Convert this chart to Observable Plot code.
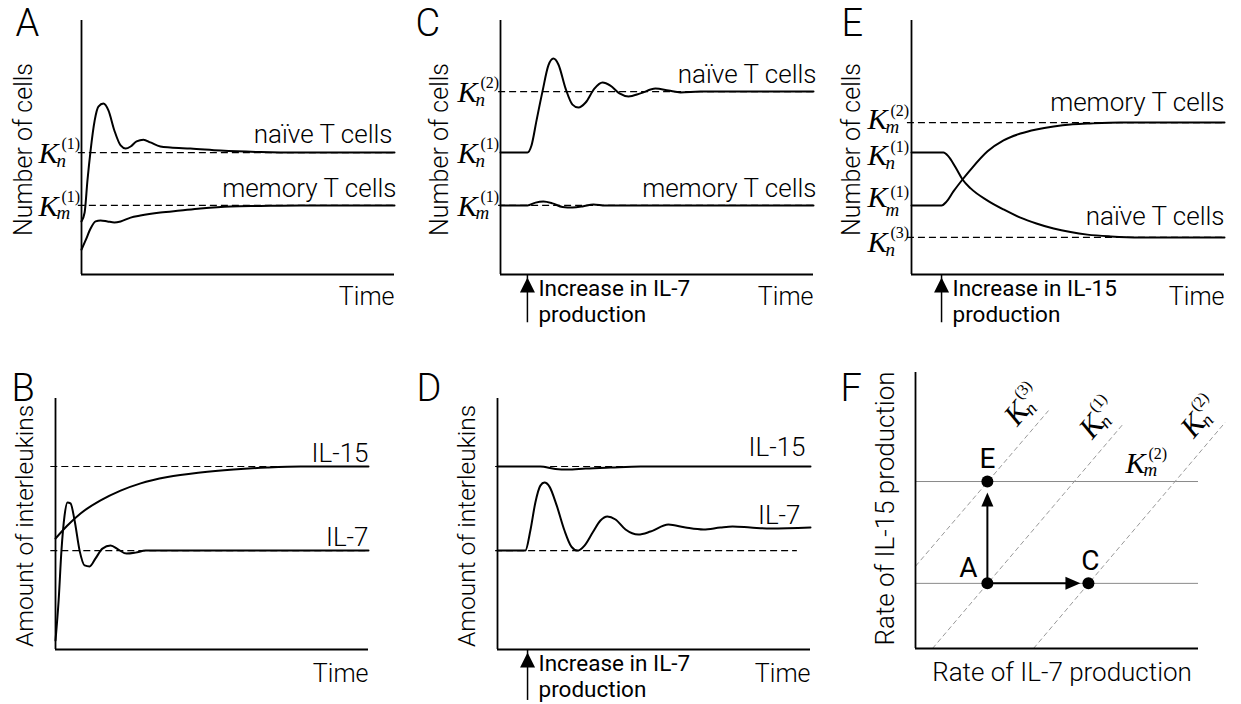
<!DOCTYPE html>
<html>
<head>
<meta charset="utf-8">
<script src="https://cdn.jsdelivr.net/npm/d3@7"></script>
<script src="https://cdn.jsdelivr.net/npm/@observablehq/plot@0.6"></script>
<style>
  body { margin: 0; background: #fff; }
  #root { position: relative; width: 1241px; height: 704px; overflow: hidden; background: #fff; }
  #root > svg { position: absolute; overflow: visible; }
</style>
</head>
<body>
<div id="root"></div>
<script>
// ---------------- DATA (arbitrary units: time 0–10, amount 0–10) ----------------
// Steady-state levels
const Kn1 = 4.80, Km1 = 2.72, Kn2 = 7.20, Km2 = 5.98, Kn3 = 1.46;
const IL15_level = 7.29, IL7_level = 3.94;
// Time of the increase in interleukin production
const stimC = 0.86, stimD = 0.96, stimE = 0.96;
const arrowTailTop = -1.9, arrowTailBottom = -2.03;

// Panel A: [time, cells]
const naiveA = [[0,2.09],[0.10,2.44],[0.19,3.70],[0.29,4.88],[0.42,6.06],[0.54,6.61],[0.70,6.73],[0.86,6.46],[1.05,5.67],[1.25,5.08],[1.41,4.96],[1.57,5.04],[1.76,5.24],[1.98,5.31],[2.20,5.20],[2.52,5.04],[2.84,5.00],[3.48,4.96],[4.44,4.88],[5.72,4.82],[7.0,4.80],[10,4.80]];
const memoryA = [[0,0.98],[0.13,1.34],[0.29,1.81],[0.45,2.09],[0.61,2.13],[0.83,2.09],[1.05,2.05],[1.25,2.09],[1.57,2.24],[1.88,2.32],[2.52,2.44],[3.16,2.52],[3.80,2.60],[4.76,2.68],[5.72,2.70],[7.0,2.72],[10,2.72]];
// Panel C
const naiveC = [[0,4.80],[0.86,4.80],[0.99,5.08],[1.15,6.06],[1.34,7.20],[1.53,8.23],[1.69,8.50],[1.85,8.27],[2.08,7.32],[2.30,6.69],[2.49,6.57],[2.72,6.77],[3.00,7.32],[3.26,7.56],[3.51,7.44],[3.80,7.13],[4.09,7.01],[4.47,7.13],[4.95,7.32],[5.37,7.24],[5.75,7.17],[6.39,7.20],[10,7.20]];
const memoryC = [[0,2.72],[0.86,2.72],[1.12,2.83],[1.37,2.87],[1.66,2.80],[1.98,2.66],[2.30,2.64],[2.62,2.68],[2.97,2.76],[3.35,2.72],[10,2.72]];
// Panel E
const naiveE = [[0,4.80],[1.02,4.80],[1.18,4.65],[1.41,4.21],[1.63,3.74],[1.89,3.39],[2.43,2.91],[2.94,2.56],[3.48,2.24],[3.99,2.01],[4.54,1.81],[5.08,1.67],[5.62,1.57],[6.36,1.50],[7.32,1.46],[10,1.46]];
const memoryE = [[0,2.72],[0.96,2.72],[1.12,2.87],[1.34,3.27],[1.63,3.74],[1.89,4.13],[2.43,4.85],[2.94,5.28],[3.48,5.55],[3.99,5.71],[4.54,5.83],[5.08,5.91],[5.62,5.94],[6.68,5.98],[10,5.98]];
// Panel B: [time, amount]
const il15B = [[0,4.42],[0.38,4.94],[0.80,5.42],[1.44,5.94],[2.08,6.33],[2.72,6.62],[3.58,6.87],[4.63,7.05],[5.69,7.17],[6.77,7.25],[7.83,7.29],[10,7.29]];
const il7B = [[0,0.36],[0.10,1.95],[0.19,3.94],[0.29,5.34],[0.38,5.86],[0.48,5.82],[0.61,5.14],[0.77,3.94],[0.93,3.35],[1.09,3.31],[1.28,3.63],[1.50,4.02],[1.76,4.14],[2.01,3.98],[2.27,3.82],[2.56,3.86],[2.88,3.94],[10,3.94]];
// Panel D
const il15D = [[0,7.29],[0.96,7.29],[1.37,7.29],[1.85,7.19],[2.24,7.17],[2.81,7.21],[3.61,7.25],[4.57,7.29],[10,7.29]];
const il7D = [[0,3.94],[0.89,3.94],[1.05,4.74],[1.21,5.86],[1.37,6.53],[1.50,6.65],[1.66,6.49],[1.89,5.74],[2.14,4.74],[2.36,4.10],[2.56,3.94],[2.78,4.14],[3.04,4.66],[3.29,5.14],[3.51,5.30],[3.77,5.18],[4.09,4.78],[4.50,4.58],[4.89,4.70],[5.46,4.98],[6.01,4.86],[6.58,4.78],[7.12,4.86],[7.51,4.90],[8.08,4.86],[8.72,4.82],[10,4.86]];
const il7DashEnd = 9.58;
// Panel F: rate of IL-7 (x) vs rate of IL-15 (y)
const pointsF = [{name: "A", x: 2.54, y: 2.36}, {name: "E", x: 2.54, y: 6.05}, {name: "C", x: 6.11, y: 2.36}];
const kmLevelsF = [2.36, 6.05];
const knLinesF = [
  {sup: "3", x1: 0, y1: 2.98, x2: 4.70, y2: 8.62},
  {sup: "1", x1: 0.60, y1: 0, x2: 7.35, y2: 8.15},
  {sup: "2", x1: 4.17, y1: 0, x2: 10.94, y2: 8.19}
];
const km2LabelX = 7.42;

// ---------------- STYLE HELPERS ----------------
const sans = "Roboto, 'Helvetica Neue', Helvetica, Arial, 'Liberation Sans', sans-serif";
const serif = "'Liberation Serif', 'Times New Roman', 'DejaVu Serif', serif";
const root = document.getElementById("root");
const baseStyle = {background: "transparent", overflow: "visible", fontFamily: sans, color: "black"};
const dash = {stroke: "black", strokeWidth: 1.1, strokeDasharray: "7,4"};
const curve = {x: d => d[0], y: d => d[1], stroke: "black", strokeWidth: 2, curve: "monotone-x"};
const axisW = 1.8;

function mount(svg, left, top) {
  svg.style.left = left + "px";
  svg.style.top = top + "px";
  root.appendChild(svg);
}

// custom filled triangle symbols (tip offset from the anchor point)
const triUp = (gap, len, half) => ({draw(ctx) { ctx.moveTo(0, gap); ctx.lineTo(-half, gap + len); ctx.lineTo(half, gap + len); ctx.closePath(); }});
const triRight = (gap, len, half) => ({draw(ctx) { ctx.moveTo(-gap, 0); ctx.lineTo(-gap - len, -half); ctx.lineTo(-gap - len, half); ctx.closePath(); }});

// K label: K with subscript and superscript
function kLabel(x, level, sub, sup, dx0, kdy, subOff = 3.5, supOff = -14) {
  const d = [level];
  const b = {x: () => x, y: d => d, fontFamily: serif, textAnchor: "start", lineAnchor: "bottom"};
  return [
    Plot.text(d, {...b, text: () => "K", fontStyle: "italic", fontSize: 30, dx: dx0, dy: kdy}),
    Plot.text(d, {...b, text: () => sub, fontStyle: "italic", fontSize: 19, dx: dx0 + 18, dy: kdy + subOff}),
    Plot.text(d, {...b, text: () => `(${sup})`, fontSize: 16, dx: dx0 + 23, dy: kdy + supOff})
  ];
}

function frameMarks(letter, letterDx, letterDy, yTitle, yTitleDx, timeDy, titleSize = 25) {
  return [
    Plot.ruleX([0], {stroke: "black", strokeWidth: axisW}),
    Plot.ruleY([0], {stroke: "black", strokeWidth: axisW}),
    Plot.text([letter], {frameAnchor: "top-left", text: d => d, dx: letterDx, dy: letterDy, fontSize: 38, fontWeight: 300, textAnchor: "start", lineAnchor: "top"}),
    Plot.text([yTitle], {frameAnchor: "left", text: d => d, rotate: -90, dx: yTitleDx, dy: 2, fontSize: titleSize, fontWeight: 300, textAnchor: "middle", lineAnchor: "middle"}),
    Plot.text(["Time"], {frameAnchor: "bottom-right", text: d => d, dy: timeDy, fontSize: 25, fontWeight: 300, textAnchor: "end", lineAnchor: "top"})
  ];
}

function stimulusMarks(stim, tail, line1, line2) {
  return [
    Plot.ruleX([stim], {y1: () => tail, y2: () => 0, stroke: "black", strokeWidth: 1.5}),
    Plot.dot([stim], {x: d => d, y: () => 0, symbol: triUp(3, 15, 7.5), fill: "black", stroke: "none"}),
    Plot.text([stim], {x: d => d, y: () => 0, text: () => line1, dx: 11, dy: 6, fontSize: 22.5, fontWeight: 400, textAnchor: "start", lineAnchor: "top"}),
    Plot.text([stim], {x: d => d, y: () => 0, text: () => line2, dx: 11, dy: 32, fontSize: 22.5, fontWeight: 400, textAnchor: "start", lineAnchor: "top"})
  ];
}

function curveLabel(text, level, dy, dx = 0, size = 26) {
  return Plot.text([level], {x: () => 10, y: d => d, text: () => text, dx, dy, fontSize: size, fontWeight: 300, textAnchor: "end", lineAnchor: "bottom"});
}

const xy10 = {x: {domain: [0, 10], axis: null}, y: {domain: [0, 10], axis: null}};

// ---------------- PANEL A ----------------
mount(Plot.plot({
  width: 410, height: 340, marginLeft: 81, marginRight: 16, marginTop: 20, marginBottom: 66,
  ...xy10, style: baseStyle,
  marks: [
    Plot.ruleY([Kn1, Km1], {...dash, x1: () => -0.1, x2: () => 10}),
    Plot.line(naiveA, curve),
    Plot.line(memoryA, curve),
    curveLabel("naïve T cells", Kn1, -10, -2),
    curveLabel("memory T cells", Km1, -8, 2),
    ...kLabel(0, Kn1, "n", "1", -43, 10.5),
    ...kLabel(0, Km1, "m", "1", -43, 10.5),
    ...frameMarks("A", -66, -11, "Number of cells", -58, 13)
  ]
}), 0, 0);

// ---------------- PANEL C ----------------
mount(Plot.plot({
  width: 420, height: 340, marginLeft: 90, marginRight: 17, marginTop: 20, marginBottom: 66,
  ...xy10, style: baseStyle,
  marks: [
    Plot.ruleY([Kn2, Km1], {...dash, x1: () => -0.06, x2: () => 10}),
    Plot.line(naiveC, curve),
    Plot.line(memoryC, curve),
    curveLabel("naïve T cells", Kn2, -9, 3),
    curveLabel("memory T cells", Km1, -8, 3),
    ...kLabel(0, Kn2, "n", "2", -43, 10.5),
    ...kLabel(0, Kn1, "n", "1", -43, 10.5),
    ...kLabel(0, Km1, "m", "1", -43, 10.5),
    ...stimulusMarks(stimC, arrowTailTop, "Increase in IL-7", "production"),
    ...frameMarks("C", -85, -11, "Number of cells", -61, 13)
  ]
}), 410, 0);

// ---------------- PANEL E ----------------
mount(Plot.plot({
  width: 416, height: 340, marginLeft: 86, marginRight: 17, marginTop: 20, marginBottom: 66,
  ...xy10, style: baseStyle,
  marks: [
    Plot.ruleY([Km2, Kn3], {...dash, x1: () => -0.13, x2: () => 10}),
    Plot.line(naiveE, curve),
    Plot.line(memoryE, curve),
    curveLabel("memory T cells", Km2, -12),
    curveLabel("naïve T cells", Kn3, -12),
    ...kLabel(0, Km2, "m", "2", -44, 6, 4, -13),
    ...kLabel(0, Kn1, "n", "1", -44, 12, 4, -13),
    ...kLabel(0, Km1, "m", "1", -44, 2, 9, -10),
    ...kLabel(0, Kn3, "n", "3", -44, 15, 4, -14),
    ...stimulusMarks(stimE, arrowTailTop, "Increase in IL-15", "production"),
    ...frameMarks("E", -70, -11, "Number of cells", -60, 13)
  ]
}), 825, 0);

// ---------------- PANEL B ----------------
mount(Plot.plot({
  width: 410, height: 344, marginLeft: 55, marginRight: 42, marginTop: 38, marginBottom: 55,
  ...xy10, style: baseStyle,
  marks: [
    Plot.ruleY([IL15_level, IL7_level], {...dash, x1: () => -0.15, x2: () => 10}),
    Plot.line(il15B, curve),
    Plot.line(il7B, curve),
    curveLabel("IL-15", IL15_level, -5, 0, 26),
    curveLabel("IL-7", IL7_level, -5, 0, 26),
    ...frameMarks("B", -44, -24, "Amount of interleukins", -30, 15, 24.5)
  ]
}), 0, 360);

// ---------------- PANEL D ----------------
mount(Plot.plot({
  width: 420, height: 344, marginLeft: 87, marginRight: 20, marginTop: 38, marginBottom: 55,
  ...xy10, style: baseStyle,
  marks: [
    Plot.ruleY([IL15_level], {...dash, x1: () => -0.06, x2: () => 10}),
    Plot.ruleY([IL7_level], {...dash, x1: () => -0.06, x2: () => il7DashEnd}),
    Plot.line(il15D, curve),
    Plot.line(il7D, curve),
    curveLabel("IL-15", IL15_level, -11, -5, 26),
    curveLabel("IL-7", il7D[il7D.length - 1][1], -4, -10, 26),
    ...stimulusMarks(stimD, arrowTailBottom, "Increase in IL-7", "production"),
    ...frameMarks("D", -81, -24, "Amount of interleukins", -30, 15, 24.5)
  ]
}), 410, 360);

// ---------------- PANEL F ----------------
const angF = -49.7, radF = angF * Math.PI / 180;
const along = [Math.cos(radF), Math.sin(radF)];
const upv = [Math.sin(radF), -Math.cos(radF)];
const off = (u, v) => [u * along[0] + v * upv[0], u * along[1] + v * upv[1]];
function kRot(line) {
  const pieces = [
    {t: "K", u: -33, v: 13, size: 30, italic: true},
    {t: "n", u: -15, v: 9, size: 19, italic: true},
    {t: `(${line.sup})`, u: -10, v: 28, size: 16, italic: false}
  ];
  return pieces.map(p => {
    const [ox, oy] = off(p.u, p.v);
    return Plot.text([line], {x: "x2", y: "y2", text: () => p.t, rotate: angF, dx: ox, dy: oy,
      fontFamily: serif, fontStyle: p.italic ? "italic" : "normal", fontSize: p.size, textAnchor: "start", lineAnchor: "bottom"});
  });
}
const ptA = pointsF.filter(d => d.name === "A"), ptE = pointsF.filter(d => d.name === "E"), ptC = pointsF.filter(d => d.name === "C");
const ptLabel = (pts, dx, dy) => Plot.text(pts, {x: "x", y: "y", text: "name", dx, dy, fontSize: 28, fontWeight: 400, textAnchor: "middle", lineAnchor: "bottom"});

mount(Plot.plot({
  width: 416, height: 344, marginLeft: 90, marginRight: 43, marginTop: 12, marginBottom: 56,
  ...xy10, style: baseStyle,
  marks: [
    Plot.ruleY(kmLevelsF, {stroke: "#8a8a8a", strokeWidth: 1}),
    Plot.link(knLinesF, {x1: "x1", y1: "y1", x2: "x2", y2: "y2", stroke: "#9a9a9a", strokeWidth: 1, strokeDasharray: "5,3"}),
    Plot.ruleX([0], {stroke: "black", strokeWidth: axisW}),
    Plot.ruleY([0], {stroke: "black", strokeWidth: axisW}),
    Plot.arrow([{a: ptA[0], b: ptE[0]}], {x1: d => d.a.x, y1: d => d.a.y, x2: d => d.b.x, y2: d => d.b.y, insetEnd: 22, headLength: 0, stroke: "black", strokeWidth: 2}),
    Plot.arrow([{a: ptA[0], b: ptC[0]}], {x1: d => d.a.x, y1: d => d.a.y, x2: d => d.b.x, y2: d => d.b.y, insetEnd: 20, headLength: 0, stroke: "black", strokeWidth: 2}),
    Plot.dot(ptE, {x: "x", y: "y", symbol: triUp(11, 14, 6), fill: "black", stroke: "none"}),
    Plot.dot(ptC, {x: "x", y: "y", symbol: triRight(8, 15, 6.5), fill: "black", stroke: "none"}),
    Plot.dot(pointsF, {x: "x", y: "y", r: 6, fill: "black", stroke: "none"}),
    ptLabel(ptA, -19, -6),
    ptLabel(ptE, 0, -14),
    ptLabel(ptC, 2, -13),
    ...knLinesF.flatMap(kRot),
    ...kLabel(km2LabelX, kmLevelsF[1], "m", "2", 0, -9),
    Plot.text(["Rate of IL-7 production"], {frameAnchor: "bottom", text: d => d, dx: 5, dy: 14, fontSize: 26, fontWeight: 300, textAnchor: "middle", lineAnchor: "top"}),
    Plot.text(["Rate of IL-15 production"], {frameAnchor: "left", text: d => d, rotate: -90, dx: -30, dy: -2, fontSize: 26, fontWeight: 300, textAnchor: "middle", lineAnchor: "middle"}),
    Plot.text(["F"], {frameAnchor: "top-left", text: d => d, dx: -75, dy: 2, fontSize: 38, fontWeight: 300, textAnchor: "start", lineAnchor: "top"})
  ]
}), 825, 360);
</script>
</body>
</html>
